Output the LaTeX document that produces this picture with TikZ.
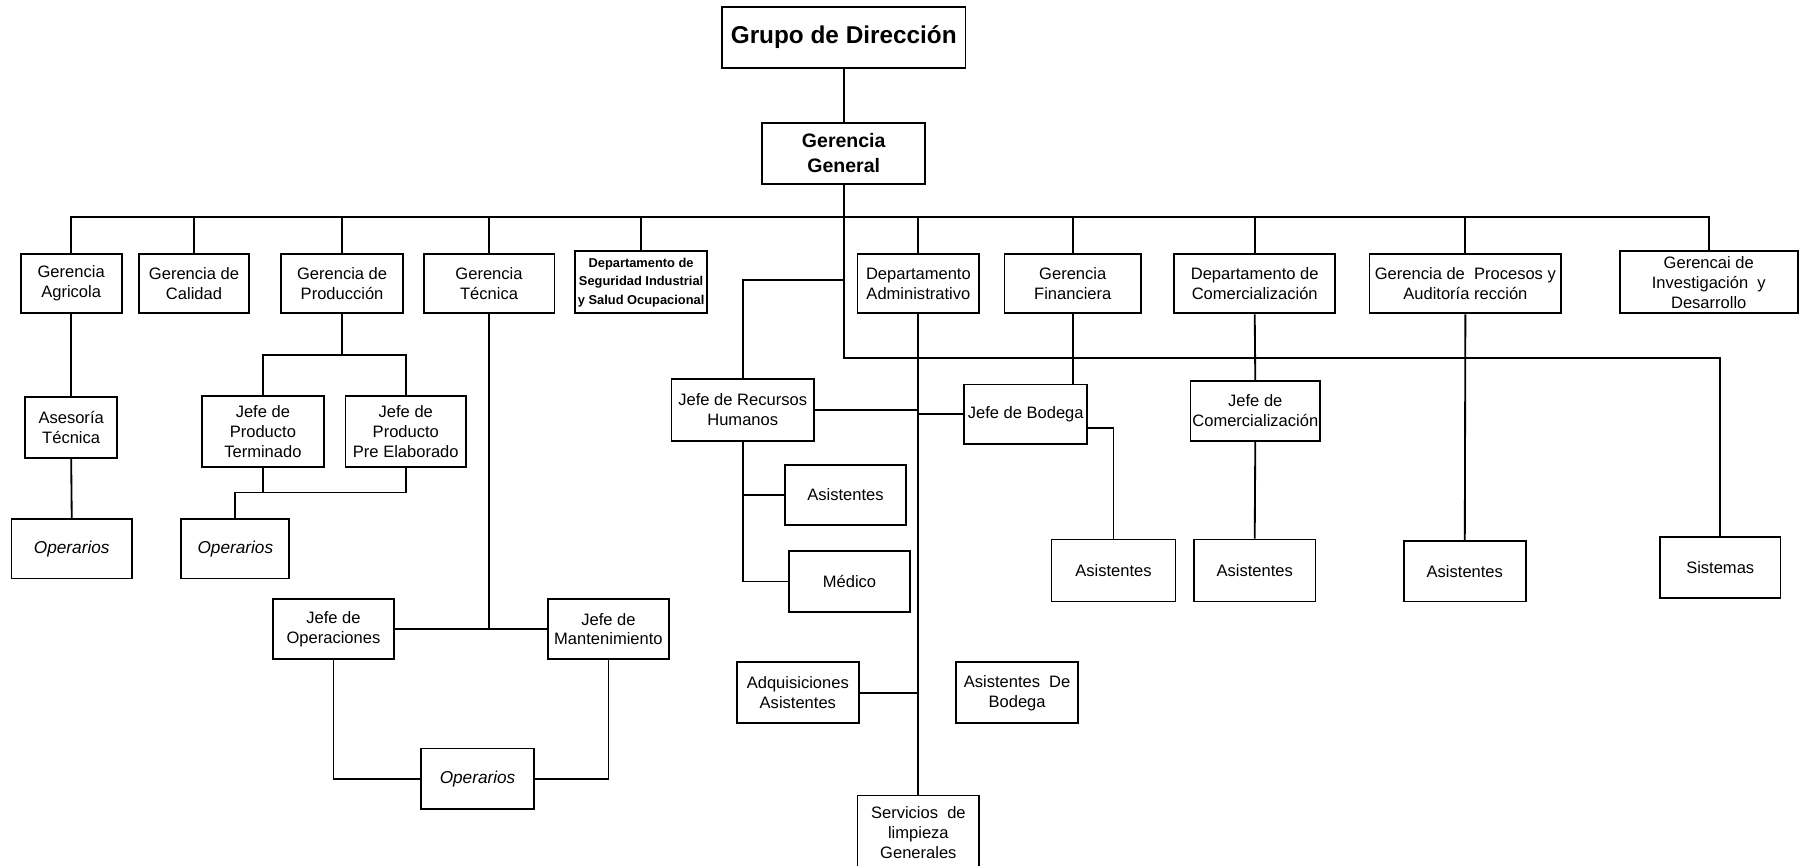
\documentclass[tikz,border=0pt]{standalone}
\usepackage{fontspec}
\setmainfont{Liberation Sans}
\tikzset{
  bx/.style={draw, line width=0.8pt, inner sep=0pt, align=center, font=\fontsize{7.2}{8.7}\selectfont},
  opbox/.style={font=\fontsize{7.5}{9}\selectfont\itshape},
  ln/.style={line width=0.8pt},
}
\newcommand\mkbox[7][]{%
  \pgfmathsetmacro\bxcx{(#3+#5)/2}%
  \pgfmathsetmacro\bxcy{(#4+#6)/2}%
  \pgfmathsetmacro\bxw{(#5-#3)*0.5}%
  \pgfmathsetmacro\bxh{(#6-#4)*0.5}%
  \node[bx,minimum width=\bxw pt,minimum height=\bxh pt,#1] (#2) at (\bxcx,\bxcy) {#7};}
\begin{document}
\begin{tikzpicture}[x=0.5pt,y=-0.5pt]
\path[use as bounding box, fill=white] (0,0) rectangle (1568,754);
% top
\mkbox[font=\fontsize{10.6}{12}\selectfont\bfseries]{gd}{629}{6}{841}{59}{Grupo de Dirección}
\mkbox[font=\fontsize{8.5}{11}\selectfont\bfseries]{gg}{664}{107}{806}{160}{Gerencia\\General}
% row 1
\mkbox{agr}{18}{221}{106}{273}{Gerencia\\Agricola}
\mkbox{cal}{121}{221}{217}{273}{Gerencia de\\Calidad}
\mkbox{prod}{245}{221}{351}{273}{Gerencia de\\Producción}
\mkbox{tec}{369}{221}{483}{273}{Gerencia\\Técnica}
\mkbox[font=\fontsize{5.6}{8}\selectfont\bfseries]{seg}{501}{219}{616}{273}{Departamento de\\Seguridad Industrial\\y Salud Ocupacional}
\mkbox{adm}{747}{221}{853}{273}{Departamento\\Administrativo}
\mkbox{fin}{875}{221}{994}{273}{Gerencia\\Financiera}
\mkbox{com}{1023}{221}{1163}{273}{Departamento de\\Comercialización}
\mkbox{proc}{1193}{221}{1360}{273}{Gerencia de\ \ Procesos y\\Auditoría rección}
\mkbox{inv}{1411}{219}{1566}{273}{Gerencai de\\Investigación\ \ y\\Desarrollo}
% left branch
\mkbox{ase}{22}{346}{102}{399}{Asesoría\\Técnica}
\mkbox[opbox]{op1}{10}{452}{115}{504}{Operarios}
\mkbox{jpt}{176}{345}{282}{407}{Jefe de\\Producto\\Terminado}
\mkbox{jpe}{301}{345}{406}{407}{Jefe de\\Producto\\Pre Elaborado}
\mkbox[opbox]{op2}{158}{452}{252}{504}{Operarios}
\mkbox{jop}{238}{522}{343}{574}{Jefe de\\Operaciones}
\mkbox{jmt}{477}{522}{583}{574}{Jefe de\\Mantenimiento}
\mkbox[opbox]{op3}{367}{652}{465}{705}{Operarios}
% centre
\mkbox{rh}{585}{330}{709}{384}{Jefe de Recursos\\Humanos}
\mkbox{ras}{684}{405}{789}{457}{Asistentes}
\mkbox{med}{687}{480}{793}{533}{Médico}
\mkbox{jb}{840}{335}{947}{387}{Jefe de Bodega}
\mkbox{ab}{916}{470}{1024}{524}{Asistentes}
\mkbox{adq}{642}{577}{748}{630}{Adquisiciones\\Asistentes}
\mkbox{asb}{833}{577}{939}{630}{Asistentes\ \ De\\Bodega}
\mkbox{srv}{747}{693}{853}{757}{Servicios\ \ de\\limpieza\\Generales}
% right
\mkbox{jc}{1037}{332}{1150}{384}{Jefe de\\Comercialización}
\mkbox{ac}{1040}{470}{1146}{524}{Asistentes}
\mkbox{ap}{1223}{471}{1329}{524}{Asistentes}
\mkbox{sis}{1446}{468}{1551}{521}{Sistemas}
% connectors
\coordinate (bus) at (735,189);
\coordinate (gl) at (735,312);
\coordinate (rj) at (735,244);
\coordinate (pj) at (298,309);
\coordinate (pl) at (0,429);
\draw[ln] (gd.south) -- (gg.north);
\draw[ln] (gg.south) -- (gl) -| (sis.north);
\draw[ln] (agr.north) |- (inv.north |- bus) -- (inv.north);
\foreach \n in {cal,prod,tec,seg,adm,fin,com,proc}
  \draw[ln] (\n.north) -- (\n.north |- bus);
\draw[ln] (rj) -| (rh.north);
\draw[ln] (agr.south) -- (ase.north);
\draw[ln] (ase.south) -- (op1.north);
\draw[ln] (prod.south) -- (pj);
\draw[ln] (jpt.north) |- (jpe.north |- pj) -- (jpe.north);
\draw[ln] (jpt.south) -- (jpt.south |- pl);
\draw[ln] (jpe.south) |- (op2.north |- pl) -- (op2.north);
\draw[ln] (tec.south) -- (tec.south |- jop.east);
\draw[ln] (jop.east) -- (jmt.west);
\draw[ln] (jop.south) |- (op3.west);
\draw[ln] (jmt.south) |- (op3.east);
\draw[ln] (adm.south) -- (srv.north);
\draw[ln] (rh.east) -- (rh.east -| adm.south);
\draw[ln] (jb.west) -- (jb.west -| adm.south);
\draw[ln] (fin.south) -- (fin.south |- jb.north);
\draw[ln] (ab.north) |- (jb.east |- 0,373);
\draw[ln] (rh.south) |- (med.west);
\draw[ln] (ras.west) -- (ras.west -| rh.south);
\draw[ln] (adq.east) -- (adq.east -| adm.south);
\draw[ln] (com.south) -- (jc.north);
\draw[ln] (jc.south) -- (ac.north);
\draw[ln] (proc.south) -- (ap.north);
\end{tikzpicture}
\end{document}
